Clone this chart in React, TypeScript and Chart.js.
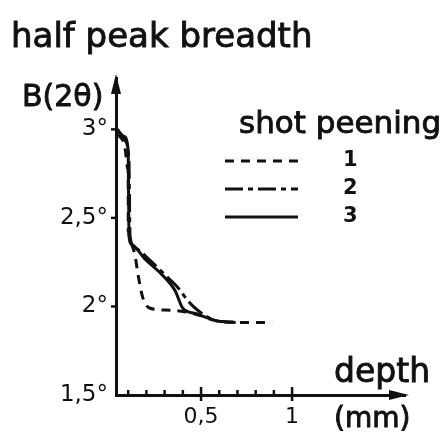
import React, { useEffect, useRef } from "react";
import { Chart, registerables } from "chart.js";
Chart.register(...registerables);

const chartTitle = "half peak breadth";
const yAxisTitle = "B(2θ)";
const xAxisTitle = "depth";
const xAxisUnit = "(mm)";
const legendTitle = "shot peening";
const seriesNames = ["1", "2", "3"];

const depth1 = [0.044, 0.08, 0.1, 0.1, 0.11, 0.137, 0.154, 0.18, 0.22, 0.3, 0.41, 0.49, 0.58, 0.69, 0.89];
const breadth1 = [2.97, 2.91, 2.77, 2.43, 2.38, 2.29, 2.18, 2.05, 1.99, 1.98, 1.97, 1.95, 1.92, 1.91, 1.91];

const depth2 = [0.044, 0.08, 0.104, 0.11, 0.137, 0.22, 0.3, 0.37, 0.43, 0.48, 0.58, 0.69];
const breadth2 = [2.99, 2.94, 2.83, 2.4, 2.33, 2.26, 2.18, 2.11, 2.03, 1.98, 1.92, 1.91];

const depth3 = [0.04, 0.077, 0.1, 0.104, 0.12, 0.19, 0.275, 0.357, 0.4, 0.47, 0.58, 0.69];
const breadth3 = [3.0, 2.96, 2.88, 2.4, 2.35, 2.27, 2.19, 2.09, 1.99, 1.96, 1.92, 1.91];

const xTickValues = [0.1, 0.2, 0.3, 0.4, 0.5, 0.6, 0.7, 0.8, 0.9, 1.0];
const xMajorValues = [0.5, 1.0];
const xMajorLabels = ["0,5", "1"];
const yTickValues = [1.5, 2, 2.5, 3];
const yTickLabels = ["1,5°", "2°", "2,5°", "3°"];

const dashes: number[][] = [[9, 7], [18, 5, 5, 5], []];

const FONT = "'DejaVu Sans', sans-serif";

function toPoints(xs: number[], ys: number[]) {
  return xs.map((x, i) => ({ x, y: ys[i] }));
}

function heavyText(ctx: CanvasRenderingContext2D, t: string, x: number, y: number) {
  ctx.fillText(t, x, y);
  ctx.lineWidth = 0.9;
  ctx.strokeText(t, x, y);
}

const decorPlugin = {
  id: "decor",
  afterDraw(chart: any) {
    const ctx = chart.ctx as CanvasRenderingContext2D;
    const area = chart.chartArea;
    const xs = chart.scales.x;
    const ys = chart.scales.y;
    ctx.save();
    ctx.fillStyle = "#111";
    ctx.strokeStyle = "#111";
    ctx.textBaseline = "alphabetic";
    ctx.textAlign = "left";
    ctx.font = `34px ${FONT}`;
    heavyText(ctx, chartTitle, 11, 47);
    ctx.font = `30px ${FONT}`;
    heavyText(ctx, yAxisTitle, 22, 106);
    ctx.font = `33px ${FONT}`;
    heavyText(ctx, xAxisTitle, 334, 382);
    ctx.font = `28px ${FONT}`;
    heavyText(ctx, xAxisUnit, 334, 427);
    // arrows
    const ax = area.left;
    ctx.beginPath();
    ctx.moveTo(ax, area.top - 4);
    ctx.lineTo(ax - 5, area.top + 16);
    ctx.lineTo(ax + 5, area.top + 16);
    ctx.closePath();
    ctx.fill();
    const ay = area.bottom;
    ctx.beginPath();
    ctx.moveTo(area.right + 4, ay);
    ctx.lineTo(area.right - 16, ay - 5);
    ctx.lineTo(area.right - 16, ay + 5);
    ctx.closePath();
    ctx.fill();
    // x ticks
    ctx.lineWidth = 2.5;
    xTickValues.forEach((v) => {
      const px = xs.getPixelForValue(v);
      const major = xMajorValues.includes(v);
      ctx.beginPath();
      ctx.moveTo(px, ay - (major ? 8 : 5));
      ctx.lineTo(px, ay + (major ? 6 : 0));
      ctx.stroke();
    });
    // y ticks
    yTickValues.forEach((v) => {
      if (v === yTickValues[0]) return;
      const py = ys.getPixelForValue(v);
      ctx.beginPath();
      ctx.moveTo(ax - 5, py);
      ctx.lineTo(ax, py);
      ctx.stroke();
    });
    // legend
    ctx.font = `31px ${FONT}`;
    heavyText(ctx, legendTitle, 239, 133);
    ctx.font = `bold 21px ${FONT}`;
    ctx.textBaseline = "middle";
    chart.data.datasets.forEach((ds: any, i: number) => {
      const ly = 161 + i * 28;
      ctx.lineWidth = 3;
      ctx.setLineDash(ds.borderDash || []);
      ctx.beginPath();
      ctx.moveTo(225, ly);
      ctx.lineTo(298, ly);
      ctx.stroke();
      ctx.setLineDash([]);
      ctx.fillText(ds.label, 343, ly);
    });
    ctx.restore();
  },
};

export default function App() {
  const ref = useRef<HTMLCanvasElement | null>(null);
  useEffect(() => {
    document.body.style.margin = "0";
    if (!ref.current) return;
    const sets = [toPoints(depth1, breadth1), toPoints(depth2, breadth2), toPoints(depth3, breadth3)];
    const chart = new Chart(ref.current, {
      type: "line",
      data: {
        datasets: sets.map((d, i) => ({
          label: seriesNames[i],
          data: d,
          borderColor: "#111",
          borderWidth: 3,
          borderDash: dashes[i],
          pointRadius: 0,
          fill: false,
          cubicInterpolationMode: "monotone" as const,
        })),
      },
      options: {
        animation: false,
        responsive: false,
        parsing: false as any,
        layout: { padding: { top: 78, right: 37, left: 0, bottom: 0 } },
        plugins: { legend: { display: false }, tooltip: { enabled: false }, title: { display: false } },
        scales: {
          x: {
            type: "linear",
            min: 0.033,
            max: 1.62,
            grid: { display: false, drawTicks: false },
            border: { display: true, color: "#111", width: 3 },
            afterBuildTicks: (s: any) => {
              s.ticks = xMajorValues.map((v) => ({ value: v }));
            },
            afterFit: (s: any) => {
              s.height = 44;
            },
            ticks: {
              color: "#111",
              font: { size: 22, family: FONT },
              padding: 9,
              maxRotation: 0,
              autoSkip: false,
              callback: (v: any) => {
                const i = xMajorValues.indexOf(Number(v));
                return i >= 0 ? xMajorLabels[i] : "";
              },
            },
          },
          y: {
            type: "linear",
            min: 1.5,
            max: 3.29,
            grid: { display: false, drawTicks: false },
            border: { display: true, color: "#111", width: 3 },
            afterBuildTicks: (s: any) => {
              s.ticks = yTickValues.map((v) => ({ value: v }));
            },
            afterFit: (s: any) => {
              s.width = 116;
            },
            ticks: {
              color: "#111",
              font: { size: 23, family: FONT },
              padding: 8,
              autoSkip: false,
              callback: (v: any) => {
                const i = yTickValues.indexOf(Number(v));
                return i >= 0 ? yTickLabels[i] : "";
              },
            },
          },
        },
      },
      plugins: [decorPlugin],
    });
    return () => chart.destroy();
  }, []);
  return (
    <div style={{ position: "absolute", left: 0, top: 0, width: 442, height: 439, background: "#fff" }}>
      <canvas ref={ref} width={442} height={439} />
    </div>
  );
}
